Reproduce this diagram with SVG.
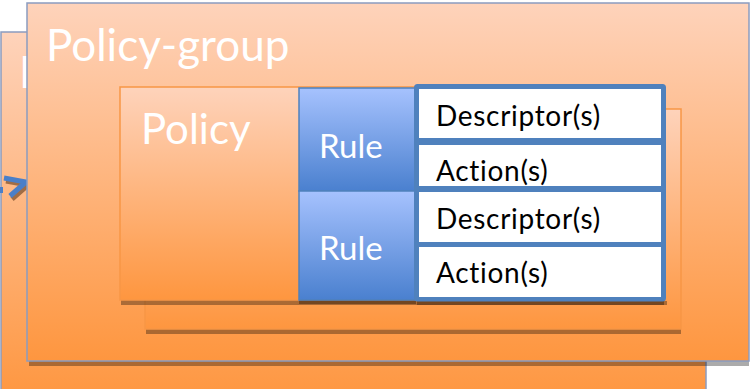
<svg xmlns="http://www.w3.org/2000/svg" width="750" height="389" viewBox="0 0 750 389">
<defs>
<linearGradient id="gOrange" x1="0" y1="0" x2="0" y2="1">
<stop offset="0" stop-color="#fed3bb"/>
<stop offset="1" stop-color="#fe963f"/>
</linearGradient>
<linearGradient id="gBlue" x1="0" y1="0" x2="0" y2="1">
<stop offset="0" stop-color="#a6c2fe"/>
<stop offset="1" stop-color="#4a80cf"/>
</linearGradient>
<clipPath id="cpBack"><rect x="1" y="32" width="26" height="357"/></clipPath>
</defs>
<style>
.pg{stroke:#8b9cc0;stroke-width:1.5}
.pol{stroke:#f79646;stroke-width:1.5}
.shadow{fill:#000;fill-opacity:0.33}
.big{font-family:Lato,"Open Sans",sans-serif;fill:#fff}
.rule{font-family:Lato,"Open Sans",sans-serif;fill:#fff;font-size:33px}
.lbl{font-family:Lato,"Open Sans",sans-serif;fill:#000;font-size:28px;letter-spacing:0.7px}
.rbox{fill:url(#gBlue);stroke:#4f81bd;stroke-width:1.5}
.cell{fill:#fff}
</style>
<rect width="750" height="389" fill="#fff"/>
<g id="policy-group-back">
<rect x="1" y="32" width="705" height="370" fill="url(#gOrange)" class="pg"/>
<g clip-path="url(#cpBack)">
<text x="19" y="88" class="big" font-size="44">P</text>
</g>
<polyline points="6,181 28,185 12,199" fill="none" stroke="#8a5a34" stroke-opacity="0.8" stroke-width="5"/>
<polyline points="4,178 26,182 10,196" fill="none" stroke="#4a7fc8" stroke-width="5"/>
<rect x="0" y="187" width="3" height="6" fill="#4a7fc8"/>
</g>
<g id="policy-group">
<rect x="29" y="361" width="720" height="5" class="shadow"/>
<rect x="27" y="3" width="722" height="358" fill="url(#gOrange)" class="pg" stroke="#6d8cc4"/>
<text x="46" y="61" class="big" font-size="44">Policy-group</text>
</g>
<g id="policy-back">
<rect x="146" y="329" width="535" height="5" class="shadow"/>
<rect x="145" y="109" width="536" height="220" fill="url(#gOrange)" class="pol"/>
</g>
<g id="policy">
<rect x="121" y="300" width="543" height="5" class="shadow"/>
<rect x="120" y="87" width="544" height="213" fill="url(#gOrange)" class="pol"/>
<text x="141" y="144" class="big" font-size="42">Policy</text>
</g>
<g id="rule-1">
<rect x="299" y="88" width="117" height="103" class="rbox"/>
<text x="319" y="158" class="rule">Rule</text>
</g>
<g id="rule-2">
<rect x="299" y="300" width="117" height="4" class="shadow"/>
<rect x="299" y="191" width="117" height="109" class="rbox"/>
<text x="319" y="260" class="rule">Rule</text>
</g>
<g id="rule-contents">
<rect x="417" y="301" width="250" height="4" class="shadow"/>
<rect x="415.5" y="85.5" width="249" height="214.5" rx="2" fill="#4f81bd" stroke="#4f81bd" stroke-width="3"/>
</g>
<g id="descriptor-1">
<rect x="419" y="89" width="242" height="49" class="cell"/>
<text x="436" y="126" class="lbl">Descriptor(s)</text>
</g>
<g id="action-1">
<rect x="419" y="145" width="242" height="41" class="cell"/>
<text x="436" y="181" class="lbl">Action(s)</text>
</g>
<g id="descriptor-2">
<rect x="419" y="192" width="242" height="50" class="cell"/>
<text x="436" y="229" class="lbl">Descriptor(s)</text>
</g>
<g id="action-2">
<rect x="419" y="247" width="242" height="50" class="cell"/>
<text x="436" y="283" class="lbl">Action(s)</text>
</g>
<g id="connectors"/>
</svg>
